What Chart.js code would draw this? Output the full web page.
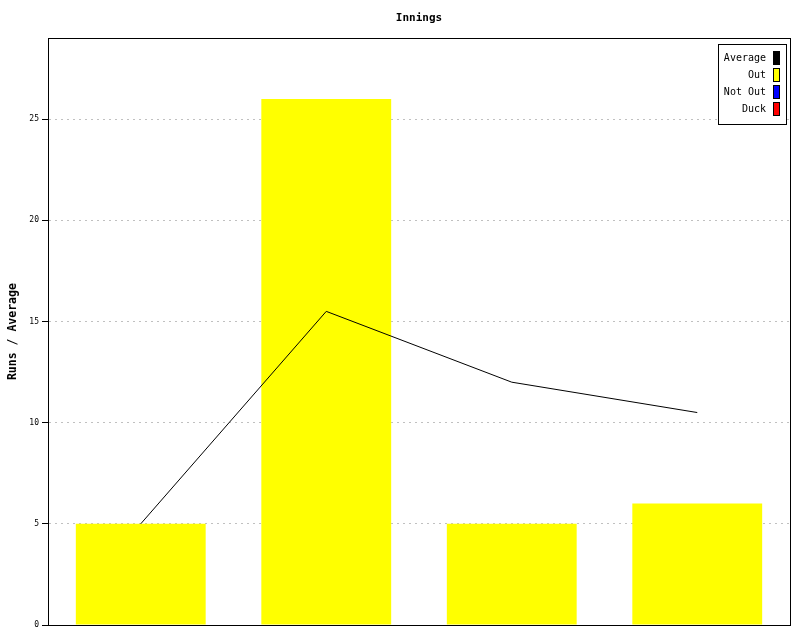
<!DOCTYPE html>
<html>
<head>
<meta charset="utf-8">
<script src="https://cdn.jsdelivr.net/npm/chart.js@4/dist/chart.umd.min.js"></script>
<style>
  html, body { margin: 0; padding: 0; background: #fff; }
  #wrap { width: 800px; height: 640px; }
</style>
</head>
<body>
<div id="wrap"><canvas id="innings"></canvas></div>
<script>
// innings data
const innings = ['1', '2', '3', '4'];
const outRuns = [5, 26, 5, 6];
const notOutRuns = [0, 0, 0, 0];
const duckRuns = [0, 0, 0, 0];
const average = [5, 15.5, 12, 10.5];
const yTicks = [0, 5, 10, 15, 20, 25];

const MONO = '"DejaVu Sans Mono", monospace';

// box round plot area + legend in the top right corner
const frameAndLegend = {
  id: 'frameAndLegend',
  afterDraw(chart) {
    const ctx = chart.ctx;
    const a = chart.chartArea;
    ctx.save();
    ctx.strokeStyle = '#000';
    ctx.lineWidth = 1;
    ctx.strokeRect(Math.round(a.left) + 0.5, Math.round(a.top) + 0.5,
      Math.round(a.right - a.left), Math.round(a.bottom - a.top));

    // legend: line first, then bars
    const items = chart.data.datasets.slice().sort((p, q) => p.order - q.order);
    const boxR = Math.round(a.right) - 4, boxT = Math.round(a.top) + 6;
    const boxW = 68, rowH = 17;
    const boxH = items.length * rowH + 12;
    ctx.fillStyle = '#fff';
    ctx.fillRect(boxR - boxW, boxT, boxW, boxH);
    ctx.strokeRect(boxR - boxW + 0.5, boxT + 0.5, boxW, boxH);
    ctx.font = '10px ' + MONO;
    ctx.textAlign = 'right';
    ctx.textBaseline = 'middle';
    items.forEach((ds, i) => {
      const cy = boxT + 14 + i * rowH;
      ctx.fillStyle = '#000';
      ctx.fillText(ds.label, boxR - 20, cy);
      ctx.fillStyle = ds.legendColor;
      ctx.fillRect(boxR - 13, cy - 7, 7, 14);
      ctx.strokeRect(boxR - 12.5, cy - 6.5, 6, 13);
    });
    ctx.restore();
  }
};

new Chart(document.getElementById('innings'), {
  data: {
    labels: innings,
    datasets: [
      { type: 'line', label: 'Average', data: average, borderColor: '#000', legendColor: '#000',
        borderWidth: 1, pointRadius: 0, tension: 0, order: 0, stack: 'avg' },
      { type: 'bar', label: 'Out', data: outRuns, backgroundColor: '#ffff00', legendColor: '#ffff00',
        order: 1, stack: 'runs' },
      { type: 'bar', label: 'Not Out', data: notOutRuns, backgroundColor: '#0000ff', legendColor: '#0000ff',
        order: 2, stack: 'runs' },
      { type: 'bar', label: 'Duck', data: duckRuns, backgroundColor: '#ff0000', legendColor: '#ff0000',
        order: 3, stack: 'runs' }
    ]
  },
  options: {
    responsive: true,
    maintainAspectRatio: false,
    animation: false,
    layout: { padding: { top: 0, right: 10, bottom: 15, left: 0 } },
    datasets: { bar: { barPercentage: 0.7, categoryPercentage: 1.0, borderWidth: 0 } },
    plugins: {
      legend: { display: false },
      tooltip: { enabled: false },
      title: {
        display: true,
        text: 'Innings',
        fullSize: false,
        color: '#000',
        font: { family: MONO, size: 11, weight: 'bold' },
        padding: { top: 12, bottom: 13 }
      }
    },
    scales: {
      x: {
        stacked: true,
        ticks: { display: false },
        grid: { display: false, drawTicks: false },
        border: { color: '#000', width: 1 },
        afterFit(scale) { scale.height = 0; }
      },
      y: {
        stacked: true,
        min: 0,
        max: 29,
        afterBuildTicks(scale) { scale.ticks = yTicks.map(v => ({ value: v })); },
        ticks: { color: '#000', padding: 3, font: { family: MONO, size: 8 } },
        grid: {
          color: '#c0c0c0',
          tickColor: '#000',
          tickLength: 6,
          tickBorderDash: [],
          lineWidth: 1
        },
        border: { color: '#000', width: 1, dash: [2, 4] },
        title: {
          display: true,
          text: 'Runs / Average',
          color: '#000',
          font: { family: MONO, size: 11.5, weight: 'bold' },
          padding: { top: 6, bottom: 0 }
        },
        afterFit(scale) { scale.width = 48; }
      }
    }
  },
  plugins: [frameAndLegend]
});
</script>
</body>
</html>
